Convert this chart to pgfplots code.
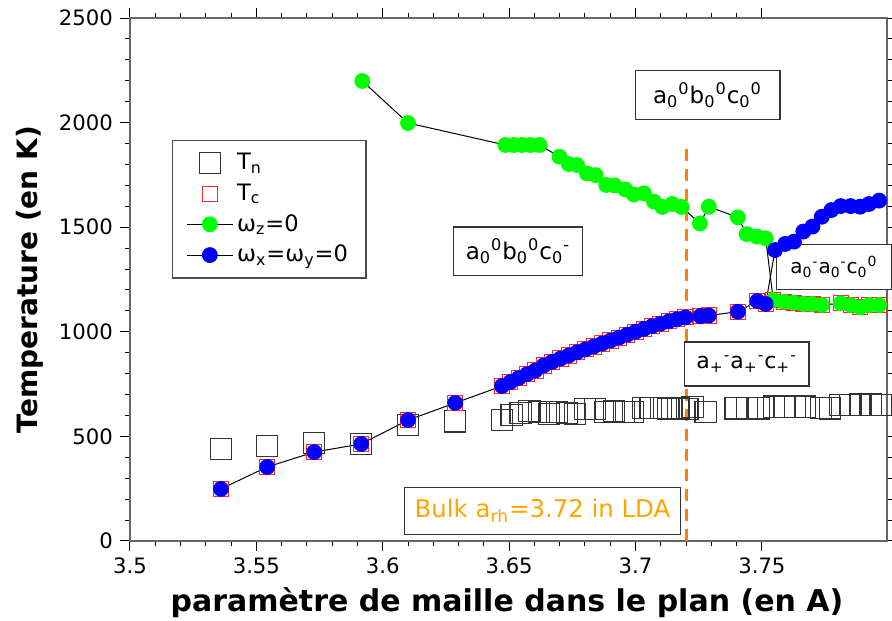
\documentclass[border=0pt]{standalone}
\usepackage{fontspec}
\setmainfont{DejaVu Sans}
\usepackage{pgfplots}
\pgfplotsset{compat=1.18}
\usetikzlibrary{calc}
\definecolor{ptgreen}{HTML}{00FF00}
\definecolor{ptblue}{HTML}{0000FF}
\definecolor{bulkorange}{HTML}{FFA500}
\definecolor{lineorange}{HTML}{FF8000}

\newcommand{\lo}[1]{\textsubscript{#1}}
\newcommand{\hi}[1]{\textsuperscript{#1}}

\begin{document}
\begin{tikzpicture}
\begin{axis}[
    name=ax,
    scale only axis,
    width=378.5pt, height=261.5pt,
    xmin=3.5, xmax=3.7995,
    ymin=0, ymax=2500,
    xtick={3.5,3.55,...,3.76},
    ytick={0,500,...,2500},
    minor x tick num=4,
    minor y tick num=4,
    tick align=outside,
    major tick length=5pt,
    minor tick length=2.6pt,
    tick style={black, line width=0.5pt},
    axis line style={black!60, line width=0.9pt},
    /pgf/number format/assume math mode=true,
    /pgf/number format/1000 sep={},
    xticklabel style={font=\fontsize{10.6}{12}\selectfont},
    yticklabel style={font=\fontsize{10.6}{12}\selectfont},
    xlabel={\bfseries paramètre de maille dans le plan (en A)},
    ylabel={\bfseries Temperature (en K)},
    xlabel style={font=\fontsize{15}{17}\selectfont,
        at={($(rel axis cs:0.498,0)+(0,-31pt)$)}, anchor=center},
    ylabel style={font=\fontsize{14}{16}\selectfont,
        at={($(rel axis cs:0,0.5)+(-50pt,0)$)}, anchor=center},
    legend cell align=left,
    legend style={at={(0.0555,0.767)}, anchor=north west,
        draw=black!70, line width=0.6pt, fill=white,
        font=\fontsize{11.3}{13}\selectfont,
        row sep=1.5pt, inner xsep=7pt, inner ysep=4.5pt},
    legend image post style={line width=0.5pt},
    clip=false,
]
% T_n
\addplot[only marks, mark=square, mark size=5.3pt, draw=black!80, line width=0.6pt,
    legend image code/.code={\draw[mark repeat=2,mark phase=2] plot coordinates {(0cm,0cm) (0.4cm,0cm) (0.8cm,0cm)};}] coordinates {
 (3.5360,440) (3.5543,454) (3.5729,468) (3.5915,464) (3.6100,555) (3.6287,572)
 (3.6472,578) (3.6510,602) (3.6545,613) (3.6580,622) (3.6617,617) (3.6657,608)
 (3.6690,617) (3.6730,613) (3.6760,608) (3.6800,630) (3.6840,630) (3.6880,617)
 (3.6915,622) (3.6954,617) (3.6990,617) (3.7030,636) (3.7060,636) (3.7100,636)
 (3.7130,630) (3.7170,636) (3.7205,630) (3.7226,640) (3.7277,617) (3.7396,634)
 (3.7440,634) (3.7487,634) (3.7547,642) (3.7590,642) (3.7630,642) (3.7670,642)
 (3.7733,636) (3.7770,634) (3.7810,650) (3.7850,650) (3.7890,652) (3.7930,652)
 (3.7970,650)
};
\addlegendentry{T\lo{n}}
% T_c
\addplot[only marks, mark=square, mark size=3.8pt, draw=red!85, line width=0.5pt,
    legend image code/.code={\draw[mark repeat=2,mark phase=2] plot coordinates {(0cm,0cm) (0.4cm,0cm) (0.8cm,0cm)};}] coordinates {
 (3.5360,249) (3.5543,354) (3.5729,425) (3.5915,464) (3.6100,578) (3.6287,660)
 (3.6472,741) (3.6505,760) (3.6538,779) (3.6571,797) (3.6604,815) (3.6637,839)
 (3.6670,856) (3.6703,872) (3.6736,887) (3.6769,902) (3.6802,916) (3.6835,930)
 (3.6868,944) (3.6901,958) (3.6934,972) (3.6967,986) (3.7000,1000) (3.7033,1014)
 (3.7066,1027) (3.7099,1039) (3.7132,1050) (3.7165,1060) (3.7198,1069)
 (3.7257,1075) (3.7290,1078) (3.7405,1096) (3.7482,1147) (3.7515,1133)
 (3.7545,1152) (3.7587,1144) (3.7627,1139) (3.7664,1133) (3.7700,1133) (3.7737,1128)
 (3.7812,1136) (3.7851,1128) (3.7889,1117) (3.7924,1128) (3.7964,1128)
};
\addlegendentry{T\lo{c}}
% omega_z = 0
\addplot[black, line width=0.5pt, mark=*, mark size=3.7pt,
    mark options={draw=ptgreen, fill=ptgreen},
    legend image code/.code={\draw[mark repeat=2,mark phase=2] plot coordinates {(0cm,0cm) (0.4cm,0cm) (0.8cm,0cm)};}] coordinates {
 (3.5919,2199) (3.6100,1998) (3.6485,1893) (3.6518,1893) (3.6551,1893) (3.6584,1893)
 (3.6620,1893) (3.6699,1837) (3.6736,1802) (3.6769,1797) (3.6808,1757) (3.6842,1749)
 (3.6884,1702) (3.6917,1700) (3.6960,1680) (3.6993,1656) (3.7033,1662) (3.7073,1622)
 (3.7106,1597) (3.7145,1611) (3.7182,1597) (3.7255,1518) (3.7290,1598) (3.7405,1547)
 (3.7440,1467) (3.7480,1455) (3.7515,1447)
 (3.7545,1152) (3.7587,1144) (3.7627,1139) (3.7664,1133) (3.7700,1133) (3.7737,1128)
 (3.7812,1136) (3.7851,1128) (3.7889,1117) (3.7924,1128) (3.7964,1128)
};
\addlegendentry{ω\lo{z}=0}
% omega_x = omega_y = 0
\addplot[black, line width=0.5pt, mark=*, mark size=3.7pt,
    mark options={draw=ptblue, fill=ptblue},
    legend image code/.code={\draw[mark repeat=2,mark phase=2] plot coordinates {(0cm,0cm) (0.4cm,0cm) (0.8cm,0cm)};}] coordinates {
 (3.5360,249) (3.5543,354) (3.5729,425) (3.5915,464) (3.6100,578) (3.6287,660)
 (3.6472,741) (3.6505,760) (3.6538,779) (3.6571,797) (3.6604,815) (3.6637,839)
 (3.6670,856) (3.6703,872) (3.6736,887) (3.6769,902) (3.6802,916) (3.6835,930)
 (3.6868,944) (3.6901,958) (3.6934,972) (3.6967,986) (3.7000,1000) (3.7033,1014)
 (3.7066,1027) (3.7099,1039) (3.7132,1050) (3.7165,1060) (3.7198,1069)
 (3.7257,1075) (3.7290,1078) (3.7405,1096) (3.7482,1147) (3.7515,1133)
 (3.7552,1391) (3.7592,1420) (3.7627,1431) (3.7664,1479) (3.7700,1503) (3.7737,1550)
 (3.7775,1582) (3.7812,1601) (3.7851,1601) (3.7889,1598) (3.7924,1611) (3.7964,1627)
};
\addlegendentry{ω\lo{x}=ω\lo{y}=0}
% bulk lattice parameter
\addplot[lineorange, line width=1.5pt, dash pattern=on 6pt off 4pt, forget plot] coordinates {
 (3.72,0) (3.72,1890)
};
% phase labels
\node[draw=black!80, fill=white, line width=0.6pt, inner xsep=9pt, inner ysep=6pt,
      font=\fontsize{11.5}{13}\selectfont] at (axis cs:3.7285,2132)
      {a\lo{0}\hi{0}b\lo{0}\hi{0}c\lo{0}\hi{0}};
\node[draw=black!80, fill=white, line width=0.6pt, inner xsep=6pt, inner ysep=6pt,
      font=\fontsize{11.5}{13}\selectfont] at (axis cs:3.6535,1385)
      {a\lo{0}\hi{0}b\lo{0}\hi{0}c\lo{0}\hi{-}};
\node[draw=black!80, fill=white, line width=0.6pt, inner xsep=7pt, inner ysep=6pt,
      font=\fontsize{10}{12}\selectfont] at (axis cs:3.7785,1310)
      {a\lo{0}\hi{-}a\lo{0}\hi{-}c\lo{0}\hi{0}};
\node[draw=black!80, fill=white, line width=0.6pt, inner xsep=6pt, inner ysep=7pt,
      font=\fontsize{11}{13}\selectfont] at (axis cs:3.744,846)
      {a\lo{+}\hi{-}a\lo{+}\hi{-}c\lo{+}\hi{-}};
\node[draw=black!80, fill=white, line width=0.6pt, inner xsep=5pt, inner ysep=6pt,
      font=\fontsize{12.2}{14}\selectfont, text=bulkorange] at (axis cs:3.6632,143)
      {Bulk a\lo{rh}=3.72 in LDA};
\end{axis}
% page frame as in the reference
\pgfresetboundingbox
\path[use as bounding box] ($(ax.south west)+(-65pt,-40pt)$) rectangle ($(ax.north east)+(2.5pt,9pt)$);
\end{tikzpicture}
\end{document}
